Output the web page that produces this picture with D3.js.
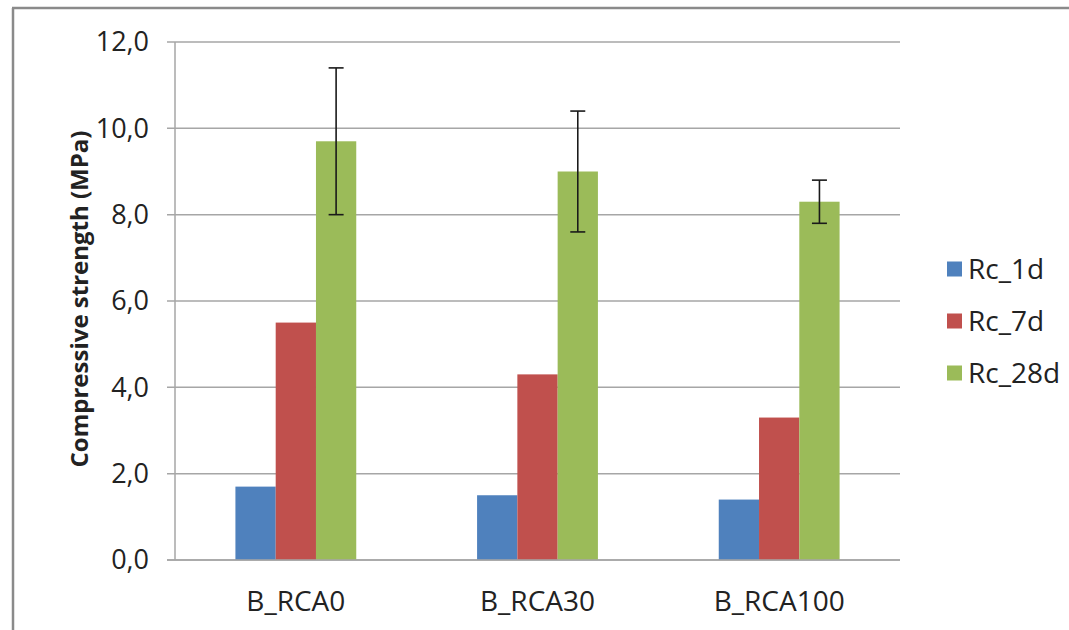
<!DOCTYPE html>
<html>
<head>
<meta charset="utf-8">
<script src="https://cdn.jsdelivr.net/npm/d3@7/dist/d3.min.js"></script>
<style>
  html, body { margin: 0; padding: 0; background: #fff; }
  svg { display: block; }
  text { font-family: "Open Sans", "Liberation Sans", sans-serif; fill: #222; }
</style>
</head>
<body>
<svg id="chart" width="1069" height="630"></svg>
<script>
const categories = ["B_RCA0", "B_RCA30", "B_RCA100"];
const seriesNames = ["Rc_1d", "Rc_7d", "Rc_28d"];
const seriesColors = ["#4F81BD", "#C0504D", "#9BBB59"];
const rc1d = [1.7, 1.5, 1.4];
const rc7d = [5.5, 4.3, 3.3];
const rc28d = [9.7, 9.0, 8.3];
const rc28dError = [1.7, 1.4, 0.5];
const yTicks = [0, 2, 4, 6, 8, 10, 12];
const yTitle = "Compressive strength (MPa)";

const seriesValues = [rc1d, rc7d, rc28d];
const seriesErrors = [null, null, rc28dError];

const svg = d3.select("#chart");
const W = 1069, H = 630;
const plot = { left: 175, right: 900, top: 42, bottom: 560 };

// frame
svg.append("line").attr("x1", 13).attr("x2", 13).attr("y1", 8).attr("y2", H)
  .attr("stroke", "#8a8a8a").attr("stroke-width", 2.5);
svg.append("line").attr("x1", 12).attr("x2", W).attr("y1", 8).attr("y2", 8)
  .attr("stroke", "#8a8a8a").attr("stroke-width", 2.5);

const y = d3.scaleLinear().domain([0, 12]).range([plot.bottom, plot.top]);
const x0 = d3.scaleBand().domain(categories).range([plot.left, plot.right]).padding(0);
const x1 = d3.scaleBand().domain(seriesNames)
  .range([x0.bandwidth() * 0.25, x0.bandwidth() * 0.75]).padding(0);

// gridlines
svg.append("g").selectAll("line").data(yTicks).join("line")
  .attr("x1", plot.left - 8).attr("x2", plot.right)
  .attr("y1", d => y(d)).attr("y2", d => y(d))
  .attr("stroke", "#a6a6a6").attr("stroke-width", 1.5);

// y axis line
svg.append("line").attr("x1", plot.left).attr("x2", plot.left)
  .attr("y1", plot.top).attr("y2", plot.bottom)
  .attr("stroke", "#a6a6a6").attr("stroke-width", 1.5);

// y tick labels
const fmt = d => d3.format(".1f")(d).replace(".", ",");
svg.append("g").selectAll("text").data(yTicks).join("text")
  .attr("x", 149).attr("y", d => y(d)).attr("dy", "0.35em")
  .attr("text-anchor", "end").attr("font-size", 27)
  .text(fmt);

// y title
svg.append("text")
  .attr("transform", `translate(80, ${(plot.top + plot.bottom) / 2 - 2}) rotate(-90)`)
  .attr("text-anchor", "middle").attr("dy", "0.35em")
  .attr("font-size", 24).attr("font-weight", "bold")
  .text(yTitle);

// bars
const groups = svg.append("g").selectAll("g").data(categories).join("g")
  .attr("transform", d => `translate(${x0(d)},0)`);

seriesNames.forEach((s, si) => {
  groups.append("rect")
    .attr("x", x1(s))
    .attr("width", x1.bandwidth())
    .attr("y", (d, i) => y(seriesValues[si][i]))
    .attr("height", (d, i) => y(0) - y(seriesValues[si][i]))
    .attr("fill", seriesColors[si]);
});

// error bars
seriesNames.forEach((s, si) => {
  if (!seriesErrors[si]) return;
  const cx = x1(s) + x1.bandwidth() / 2;
  groups.each(function(d, i) {
    const v = seriesValues[si][i], e = seriesErrors[si][i];
    const g = d3.select(this).append("g").attr("stroke", "#1a1a1a").attr("stroke-width", 1.6);
    g.append("line").attr("x1", cx).attr("x2", cx).attr("y1", y(v + e)).attr("y2", y(v - e));
    g.append("line").attr("x1", cx - 7.5).attr("x2", cx + 7.5).attr("y1", y(v + e)).attr("y2", y(v + e));
    g.append("line").attr("x1", cx - 7.5).attr("x2", cx + 7.5).attr("y1", y(v - e)).attr("y2", y(v - e));
  });
});

// redraw zero line on top of bars
svg.append("line").attr("x1", plot.left - 8).attr("x2", plot.right)
  .attr("y1", y(0)).attr("y2", y(0)).attr("stroke", "#a6a6a6").attr("stroke-width", 1.5);

// x labels
svg.append("g").selectAll("text").data(categories).join("text")
  .attr("x", d => x0(d) + x0.bandwidth() / 2).attr("y", 601).attr("dy", "0.35em")
  .attr("text-anchor", "middle").attr("font-size", 28)
  .text(d => d);

// legend
const legend = svg.append("g").selectAll("g").data(seriesNames).join("g")
  .attr("transform", (d, i) => `translate(947, ${269 + i * 52})`);
legend.append("rect").attr("x", 0).attr("y", -7.5).attr("width", 15).attr("height", 15)
  .attr("fill", (d, i) => seriesColors[i]);
legend.append("text").attr("x", 21).attr("y", 0).attr("dy", "0.35em")
  .attr("font-size", 28).text(d => d);
</script>
</body>
</html>
